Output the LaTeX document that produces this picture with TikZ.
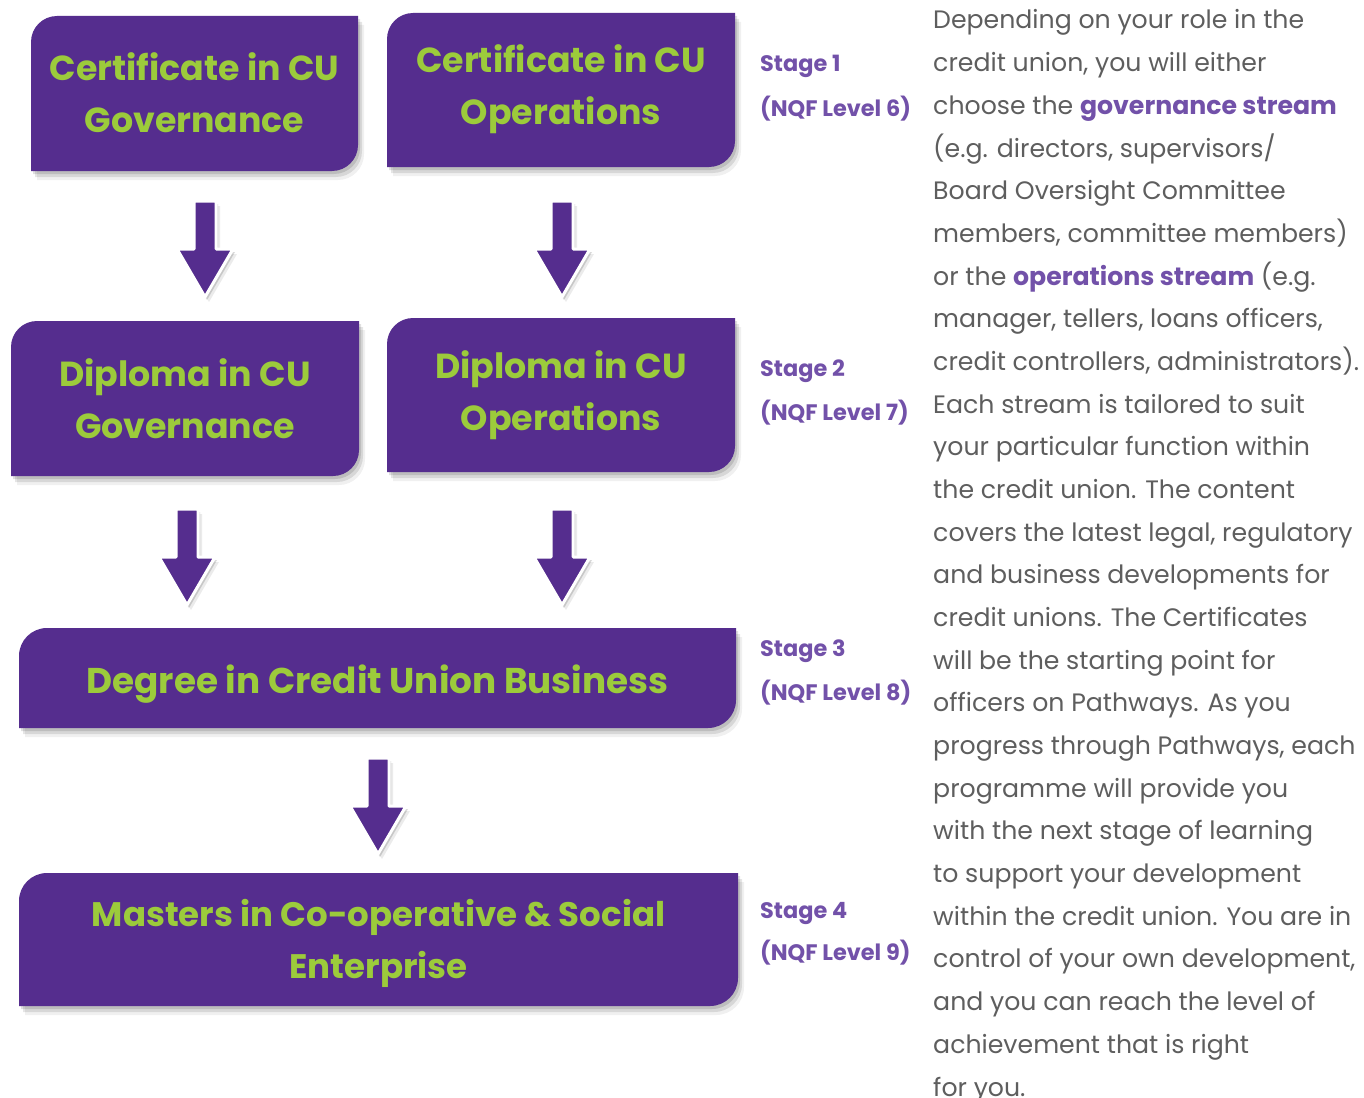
\documentclass[tikz,border=0pt]{standalone}
\usepackage{fontspec}
\setmainfont{Poppins}
\usetikzlibrary{shadows,calc}
\definecolor{cupurple}{HTML}{552D8E}
\definecolor{cugreen}{HTML}{9CCB3B}
\definecolor{stagepurple}{HTML}{7251A9}
\definecolor{bodygrey}{HTML}{5E5E5E}
\tikzset{
  softshadow/.style={
    drop shadow={shadow xshift=2pt, shadow yshift=-3pt, opacity=0.12, fill=black},
    drop shadow={shadow xshift=4pt, shadow yshift=-6pt, opacity=0.10, fill=black},
    drop shadow={shadow xshift=6pt, shadow yshift=-9pt, opacity=0.06, fill=black}},
  boxnode/.style={inner sep=0pt, align=center, text=cugreen, font=\bfseries\fontsize{34.8}{52}\selectfont},
  boxfill/.style={fill=cupurple, softshadow},
  arrowshape/.style={fill=cupurple, draw=white, line width=3pt, line join=round,
    drop shadow={shadow xshift=2pt, shadow yshift=-3pt, opacity=0.15, fill=black},
    drop shadow={shadow xshift=4pt, shadow yshift=-5pt, opacity=0.08, fill=black}},
  stagelabel/.style={anchor=west, inner sep=0pt, text=stagepurple, font=\bfseries\fontsize{22.4}{26}\selectfont},
  bodyline/.style={anchor=base west, inner sep=0pt, text=bodygrey, font=\fontsize{25.2}{30}\selectfont},
}
\newcommand\hlt[1]{\textcolor{stagepurple}{\bfseries #1}}
\newcommand\cubox[8]{% name, x1, y1, x2, y2, radius, node options, text
  \coordinate (#1nw) at (#2,#3);
  \coordinate (#1se) at (#4,#5);
  \fill[boxfill] let \p1=(#1nw), \p2=(#1se) in
    (\x1,\y2) -- (\x1,\y1-#6pt) arc[start angle=180,end angle=90,radius=#6pt]
    -- (\x2,\y1) -- (\x2,\y2+#6pt) arc[start angle=0,end angle=-90,radius=#6pt] -- cycle;
  \node[boxnode, #7] (#1) at ($(#1nw)!0.5!(#1se)$) {#8};
}
\newcommand\blockarrow[2]{% top, tip
  \fill[arrowshape] let \p1=(#1), \p2=(#2) in
    (\x1-11pt,\y1) -- (\x1+11pt,\y1) -- (\x1+11pt,\y2+48pt) -- (\x1+28pt,\y2+48pt)
    -- (\x2,\y2) -- (\x1-28pt,\y2+48pt) -- (\x1-11pt,\y2+48pt) -- cycle;
}
\begin{document}
\begin{tikzpicture}[x=1pt,y=-1pt]
\useasboundingbox[fill=white] (0,0) rectangle (1364,1097);
% boxes
\cubox{cg}{31}{16}{358}{171}{26}{yshift=1pt}{Certificate in CU\\Governance}
\cubox{co}{387}{13}{735}{167}{26}{yshift=1pt}{Certificate in CU\\Operations}
\cubox{dg}{11}{321}{359}{476}{26}{}{Diploma in CU\\Governance}
\cubox{do}{387}{318}{735}{472}{26}{}{Diploma in CU\\Operations}
\cubox{deg}{19}{628}{736}{728}{28}{yshift=-6pt, font=\bfseries\fontsize{35.8}{52}\selectfont}{Degree in Credit Union Business}
\cubox{mas}{19}{873}{738}{1006}{28}{yshift=-4pt, font=\bfseries\fontsize{34}{52}\selectfont}{Masters in Co-operative \& Social\\Enterprise}
% arrows
\coordinate (a1top) at (205,201); \coordinate (a1tip) at (205,297);
\coordinate (a2top) at (562,201); \coordinate (a2tip) at (562,297);
\coordinate (a3top) at (187,509); \coordinate (a3tip) at (187,605);
\coordinate (a4top) at (562,509); \coordinate (a4tip) at (562,605);
\coordinate (a5top) at (378,758); \coordinate (a5tip) at (378,854);
\blockarrow{a1top}{a1tip}
\blockarrow{a2top}{a2tip}
\blockarrow{a3top}{a3tip}
\blockarrow{a4top}{a4tip}
\blockarrow{a5top}{a5tip}
% stage labels
\node[stagelabel] (s1a) at (760,66) {Stage 1};
\node[stagelabel] (s1b) at (760,109) {(NQF Level 6)};
\node[stagelabel] (s2a) at (760,371) {Stage 2};
\node[stagelabel] (s2b) at (760,413) {(NQF Level 7)};
\node[stagelabel] (s3a) at (760,651) {Stage 3};
\node[stagelabel] (s3b) at (760,693) {(NQF Level 8)};
\node[stagelabel] (s4a) at (760,914) {Stage 4};
\node[stagelabel] (s4b) at (760,953) {(NQF Level 9)};
% body text
\foreach \t [count=\i] in {
  {Depending on your role in the},
  {credit union, you will either},
  {choose the \hlt{governance stream}},
  {(e.g. directors, supervisors/},
  {Board Oversight Committee},
  {members, committee members)},
  {or the \hlt{operations stream} (e.g.},
  {manager, tellers, loans officers,},
  {credit controllers, administrators).},
  {Each stream is tailored to suit},
  {your particular function within},
  {the credit union. The content},
  {covers the latest legal, regulatory},
  {and business developments for},
  {credit unions. The Certificates},
  {will be the starting point for},
  {officers on Pathways. As you},
  {progress through Pathways, each},
  {programme will provide you},
  {with the next stage of learning},
  {to support your development},
  {within the credit union. You are in},
  {control of your own development,},
  {and you can reach the level of},
  {achievement that is right},
  {for you.}}
  \node[bodyline] (b\i) at (933,{29+42.68*(\i-1)}) {\t};
\end{tikzpicture}
\end{document}
